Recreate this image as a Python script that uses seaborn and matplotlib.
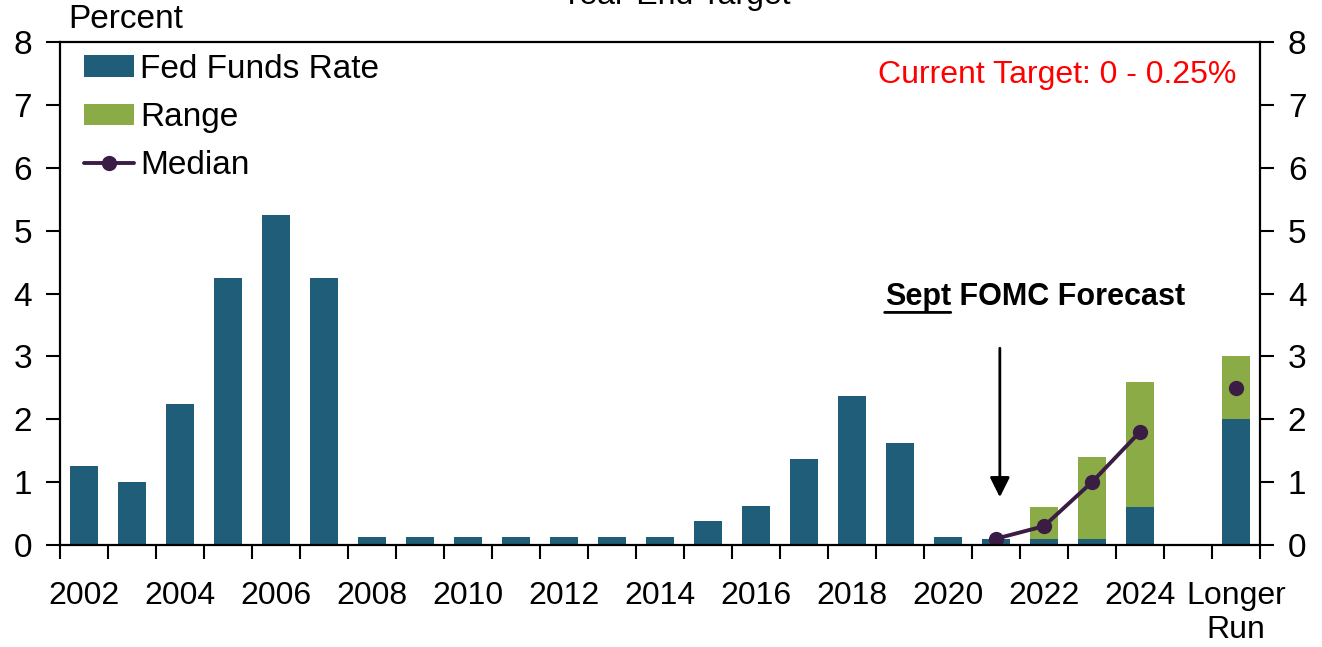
import numpy as np
import pandas as pd
import matplotlib
matplotlib.use("Agg")
import matplotlib.pyplot as plt
import seaborn as sns

# categories: historical years, forecast years, a blank slot, longer run
categories = [str(y) for y in range(2002, 2025)] + [" ", "Longer Run"]
tick_labels = {"2002": "2002", "2004": "2004", "2006": "2006", "2008": "2008",
               "2010": "2010", "2012": "2012", "2014": "2014", "2016": "2016",
               "2018": "2018", "2020": "2020", "2022": "2022", "2024": "2024",
               "Longer Run": "Longer\nRun"}

# year-end fed funds rate, 2002-2021
hist_years = [str(y) for y in range(2002, 2022)]
fed_funds = [1.25, 1.0, 2.25, 4.25, 5.25, 4.25, 0.125, 0.125, 0.125, 0.125,
             0.125, 0.125, 0.125, 0.375, 0.625, 1.375, 2.375, 1.625, 0.125, 0.1]

# Sept FOMC projection range
forecast_cats = ["2022", "2023", "2024", "Longer Run"]
range_low = [0.1, 0.1, 0.6, 2.0]
range_high = [0.6, 1.4, 2.6, 3.0]

# median projection
median_cats = ["2021", "2022", "2023", "2024", "Longer Run"]
median = [0.1, 0.3, 1.0, 1.8, 2.5]

TEAL = "#1f5d78"
GREEN = "#8aab45"
PURPLE = "#3b1c45"
FS = 23

sns.set_theme(style="ticks")
plt.rcParams["font.family"] = ["Liberation Sans", "DejaVu Sans"]
plt.rcParams["font.size"] = FS
for k in ["text.color", "axes.labelcolor", "xtick.color", "ytick.color", "axes.edgecolor"]:
    plt.rcParams[k] = "black"

teal_df = pd.DataFrame({"cat": hist_years + forecast_cats,
                        "val": fed_funds + range_low})
green_df = pd.DataFrame({"cat": forecast_cats, "val": range_high})

fig = plt.figure(figsize=(13.22, 6.47), dpi=100)
ax = fig.add_axes([60 / 1322, 102 / 647, 1200 / 1322, 503 / 647])

sns.barplot(data=green_df, x="cat", y="val", order=categories, color=GREEN,
            saturation=1, width=0.58, errorbar=None, ax=ax, label="Range",
            linewidth=0)
sns.barplot(data=teal_df, x="cat", y="val", order=categories, color=TEAL,
            saturation=1, width=0.58, errorbar=None, ax=ax, label="Fed Funds Rate",
            linewidth=0)

pos = {c: i for i, c in enumerate(categories)}
med_df = pd.DataFrame({"x": [pos[c] for c in median_cats[:-1]], "y": median[:-1]})
sns.lineplot(data=med_df, x="x", y="y", color=PURPLE, lw=2.8, marker="o",
             markersize=11, markeredgewidth=0, ax=ax, label="Median")
ax.plot(pos[median_cats[-1]], median[-1], "o", color=PURPLE, markersize=11,
        markeredgewidth=0)

ax.set_xlim(-0.5, len(categories) - 0.5)
ax.set_ylim(0, 8)
ax.set_xlabel("")
ax.set_ylabel("")

# ticks at category boundaries, labels under the bars
ax.set_xticks(np.arange(-0.5, len(categories), 1.0))
ax.set_xticklabels([])
ax.set_xticks([pos[c] for c in tick_labels], minor=True)
ax.set_xticklabels(list(tick_labels.values()), minor=True, fontsize=FS,
                   linespacing=1.15)
ax.tick_params(axis="x", which="major", length=10, width=1.5, direction="out")
ax.tick_params(axis="x", which="minor", length=0, pad=26)
ax.set_yticks(range(0, 9))
ax.tick_params(axis="y", length=10, width=1.5, direction="out", labelsize=FS + 1,
               right=True, labelright=True, pad=10)

for s in ax.spines.values():
    s.set_visible(True)
    s.set_linewidth(1.6)
    s.set_color("black")

handles, labels = ax.get_legend_handles_labels()
order = [labels.index("Fed Funds Rate"), labels.index("Range"), labels.index("Median")]
ax.legend([handles[i] for i in order], [labels[i] for i in order],
          loc="upper left", bbox_to_anchor=(0.01, 1.0), frameon=False,
          fontsize=FS + 1, handlelength=1.5, handleheight=0.6, handletextpad=0.2,
          labelspacing=0.52, borderaxespad=0.0, borderpad=0.35)

ax.text(0.98, 0.935, "Current Target: 0 - 0.25%", transform=ax.transAxes,
        ha="right", va="center", color="red", fontsize=FS)

# Sept FOMC Forecast label with underlined "Sept"
t1 = ax.text(16.68, 3.82, "Sept", fontsize=FS - 1, fontweight="bold", va="baseline")
ax.annotate(" FOMC Forecast", xy=(1, 0), xycoords=t1, ha="left", va="bottom",
            fontsize=FS - 1, fontweight="bold")
ax.annotate("", xy=(0, -0.02), xycoords=t1, xytext=(1, -0.02), textcoords=t1,
            arrowprops=dict(arrowstyle="-", lw=2, color="black",
                            shrinkA=0, shrinkB=0))

ax.annotate("", xy=(19.08, 0.76), xytext=(19.08, 3.13),
            arrowprops=dict(arrowstyle="-|>", lw=2, color="black",
                            mutation_scale=30, shrinkA=0, shrinkB=0))

fig.text(68 / 1322, 1 - 20 / 647, "Percent", ha="left", va="center", fontsize=FS + 1)
fig.text(676 / 1322, 1 - 4 / 647, "Year-End Target", ha="center",
         va="baseline", fontsize=FS)

fig.savefig("out.png", dpi=100)
